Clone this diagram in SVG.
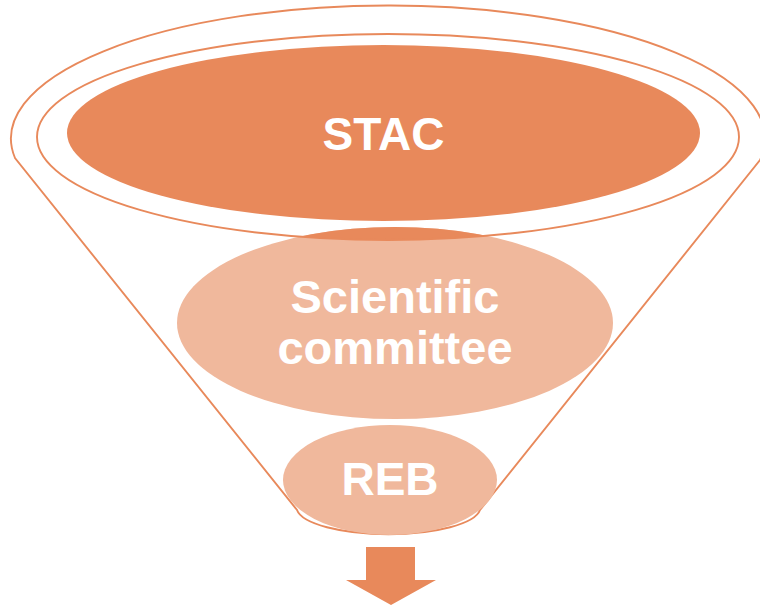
<svg xmlns="http://www.w3.org/2000/svg" width="760" height="607" viewBox="0 0 760 607">
  <style>
    .rim { fill: none; stroke: #E8895B; stroke-width: 1.9; }
    .dark { fill: #E8895B; }
    .light { fill: #F0B89C; }
    .label { font-family: "Liberation Sans", Arial, sans-serif; font-weight: bold; fill: #FFFFFF; text-anchor: middle; }
  </style>
  <defs>
    <clipPath id="mouth">
      <ellipse cx="388" cy="137" rx="351" ry="103"/>
    </clipPath>
  </defs>

  <rect width="760" height="607" fill="#FFFFFF"/>

  <!-- funnel outline: top rim, straight sides and rounded spout -->
  <g id="funnel">
    <path class="rim" d="M 15 158 A 377 133 0 1 1 760 160 L 480 510 A 92 27 0 0 1 297 510 Z"/>
  </g>

  <g id="stac">
    <ellipse class="dark" cx="383.5" cy="133" rx="316.5" ry="88"/>
    <text class="label" x="383.5" y="150" font-size="46">STAC</text>
  </g>

  <g id="scientific-committee">
    <ellipse class="light" cx="395" cy="323" rx="218" ry="96"/>
    <!-- part of the ellipse that sits inside the funnel mouth -->
    <ellipse class="dark" cx="395" cy="323" rx="218" ry="96" clip-path="url(#mouth)"/>
    <text class="label" x="395" y="313" font-size="47">Scientific</text>
    <text class="label" x="395" y="364" font-size="47">committee</text>
  </g>

  <g id="reb">
    <ellipse class="light" cx="390" cy="480" rx="107" ry="55"/>
    <text class="label" x="390" y="495" font-size="46">REB</text>
  </g>

  <!-- inner rim of the funnel mouth -->
  <g id="mouth-rim">
    <ellipse class="rim" cx="388" cy="137" rx="351" ry="103"/>
  </g>

  <g id="connectors">
    <polygon class="dark" points="366,547 415,547 415,580 436,580 391,605 346,580 366,580"/>
  </g>
</svg>
